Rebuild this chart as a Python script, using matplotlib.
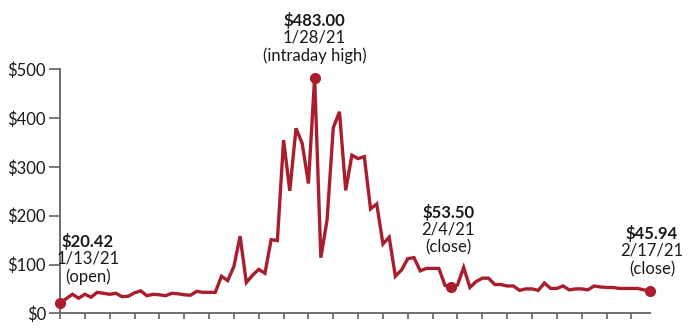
import matplotlib
matplotlib.use("Agg")
import matplotlib.pyplot as plt

plt.rcParams['font.family'] = ['Lato', 'DejaVu Sans']

# trading days on the x axis, four price samples per day
trading_days = ['1/13', '1/14', '1/15', '1/19', '1/20', '1/21', '1/22', '1/25',
                '1/26', '1/27', '1/28', '1/29', '2/1', '2/2', '2/3', '2/4',
                '2/5', '2/8', '2/9', '2/10', '2/11', '2/12', '2/16', '2/17']
samples_per_day = 4

prices = [20.42, 30, 39, 31, 39, 33, 43, 41, 39, 41, 34, 35, 42, 46, 36, 39,
          38, 36, 41, 40, 38, 37, 45, 43, 43, 43, 76, 67, 96, 158, 63, 78,
          90, 82, 151, 149, 355, 251, 379, 348, 266, 483, 114, 191, 380, 413,
          252, 324, 317, 321, 214, 224, 142, 156, 76, 89, 112, 114, 87, 92,
          92, 92, 57, 53.50, 58, 94, 53, 65, 72, 72, 59, 59, 56, 56, 47, 50,
          50, 47, 62, 51, 51, 56, 48, 50, 50, 48, 56, 54, 53, 53, 51, 51,
          51, 51, 48, 45.94]

y_ticks = [0, 100, 200, 300, 400, 500]
y_labels = ['$0', '$100', '$200', '$300', '$400', '$500']

# highlighted points: sample index, price text, date, note, label offset (px)
callouts = [
    (0, '$20.42', '1/13/21', '(open)', 28, 62),
    (41, '$483.00', '1/28/21', '(intraday high)', 0, 57),
    (63, '$53.50', '2/4/21', '(close)', -3, 75),
    (95, '$45.94', '2/17/21', '(close)', 2, 57),
]

red = '#a91d2d'
grey = '#6e6e6e'
ink = '#1a1a1a'
fs = 12

fig = plt.figure(figsize=(7, 3.34), dpi=100)
ax = fig.add_axes([60 / 700, 20.7 / 334, 590 / 700, 244 / 334])

x = list(range(len(prices)))
ax.plot(x, prices, color=red, lw=2.4, solid_joinstyle='miter', clip_on=False, zorder=3)

pt = 0.72  # pixels -> points
for idx, price_txt, date_txt, note, dx, dy in callouts:
    ax.plot(idx, prices[idx], 'o', color=red, ms=7, clip_on=False, zorder=4)
    lines = [(price_txt, 'bold', dy), (date_txt, 'normal', dy - 17),
             (note, 'normal', dy - 35)]
    for txt, weight, off in lines:
        ax.annotate(txt, (idx, prices[idx]), xytext=(dx * pt, off * pt),
                    textcoords='offset points', ha='center', va='center',
                    fontsize=fs, fontweight=weight, color=ink)

ax.set_xlim(0, len(prices) - 1)
ax.set_ylim(0, 500)

ax.set_xticks(range(0, len(trading_days) * samples_per_day, samples_per_day))
ax.set_xticklabels([])
ax.set_yticks(y_ticks)
ax.set_yticklabels(y_labels)

for side in ['top', 'right']:
    ax.spines[side].set_visible(False)
for side in ['left', 'bottom']:
    ax.spines[side].set_color(grey)
    ax.spines[side].set_linewidth(1.4)

ax.tick_params(axis='x', length=4, width=1.3, color=grey, direction='out')
ax.tick_params(axis='y', length=8, width=1.3, color=grey, direction='out',
               labelsize=fs, labelcolor=ink, pad=2)

fig.savefig('out.png', dpi=100)
